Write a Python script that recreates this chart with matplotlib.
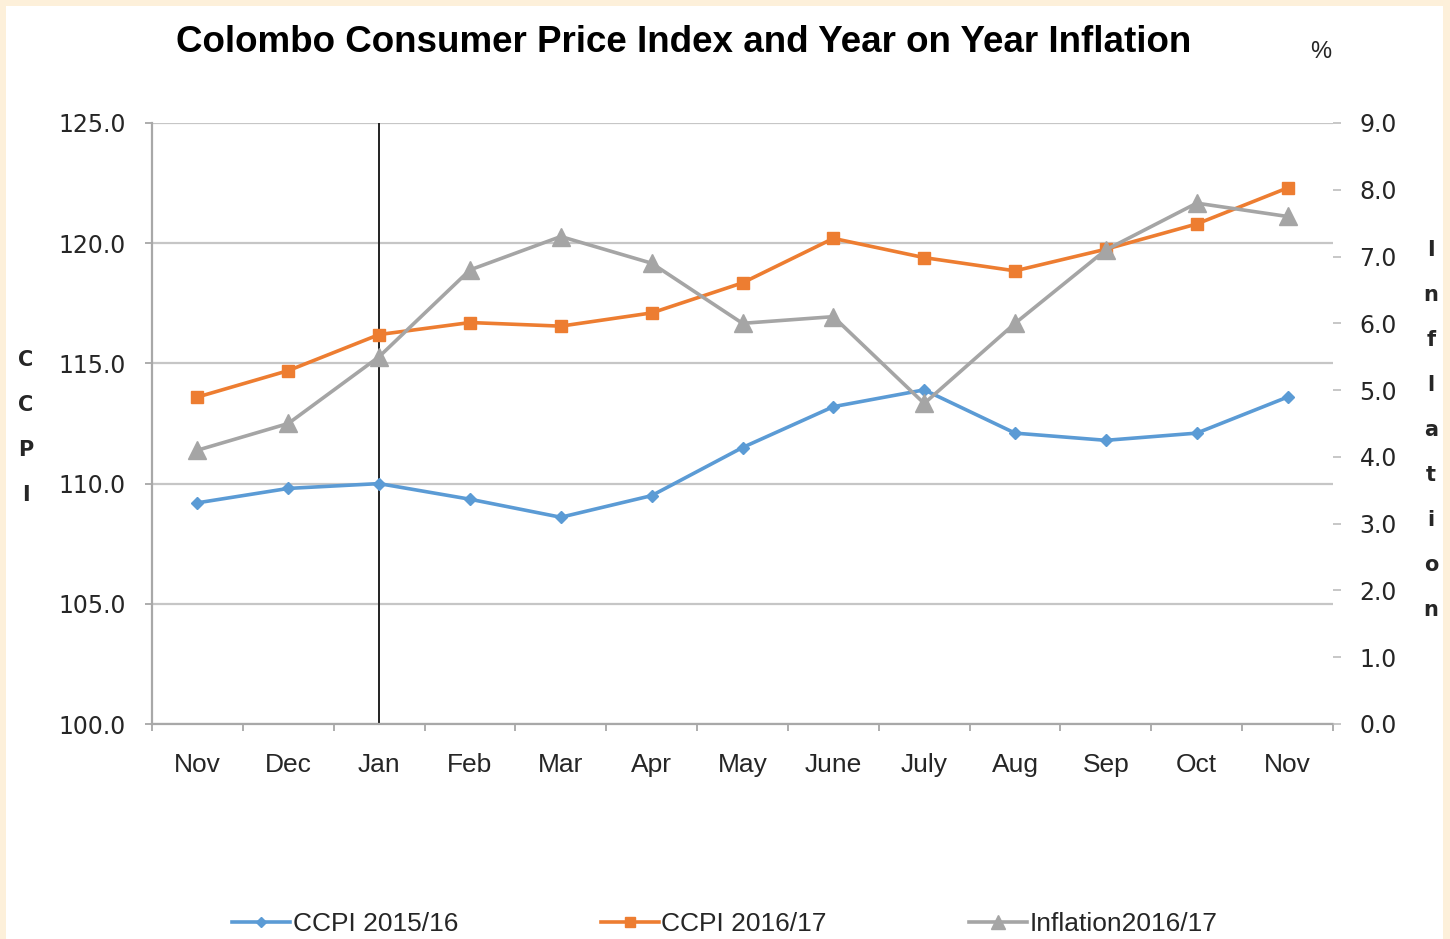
"""Colombo Consumer Price Index and Year on Year Inflation chart."""

import matplotlib

matplotlib.use("Agg")
import matplotlib.pyplot as plt
from matplotlib.patches import Rectangle
from matplotlib.ticker import FixedLocator

MONTHS = ["Nov", "Dec", "Jan", "Feb", "Mar", "Apr", "May", "June",
          "July", "Aug", "Sep", "Oct", "Nov"]
CCPI_2015_16 = [109.2, 109.8, 110.0, 109.35, 108.6, 109.5, 111.5, 113.2,
                113.9, 112.1, 111.8, 112.1, 113.6]
CCPI_2016_17 = [113.6, 114.7, 116.2, 116.7, 116.55, 117.1, 118.35, 120.2,
                119.4, 118.85, 119.75, 120.8, 122.3]
INFLATION_2016_17 = [4.1, 4.5, 5.5, 6.8, 7.3, 6.9, 6.0, 6.1, 4.8, 6.0,
                     7.1, 7.8, 7.6]
LEFT_TICKS = [100, 105, 110, 115, 120, 125]
RIGHT_TICKS = [0, 1, 2, 3, 4, 5, 6, 7, 8, 9]

BLUE = "#5B9BD5"
ORANGE = "#ED7D31"
GRAY = "#A5A5A5"
GRID = "#C6C6C6"
TEXT = "#262626"

fig = plt.figure(figsize=(14.5, 9.39), dpi=100)
fig.patch.set_facecolor("#FDF0DA")
fig.add_artist(Rectangle((6 / 1450, 0), 1437 / 1450, 1 - 6 / 939,
                         transform=fig.transFigure, facecolor="white",
                         edgecolor="none", zorder=0))

ax = fig.add_axes([152 / 1450, 1 - 724 / 939, 1181 / 1450, 601 / 939])
ax.set_facecolor("none")
x = list(range(len(MONTHS)))

ax.set_xlim(-0.5, len(MONTHS) - 0.5)
ax.set_ylim(100, 125)
ax.set_yticks(LEFT_TICKS)
ax.set_yticklabels([f"{v:.1f}" for v in LEFT_TICKS], fontsize=17,
                   color=TEXT, family="DejaVu Sans")
ax.grid(axis="y", color=GRID, linewidth=1.6)
ax.set_axisbelow(True)
ax.tick_params(axis="y", length=5, width=1.2, color="#A0A0A0", pad=14)

ax.set_xticks(x)
ax.set_xticklabels(MONTHS, fontsize=19, color=TEXT, family="Liberation Sans")
ax.tick_params(axis="x", length=0, pad=21)
ax.xaxis.set_minor_locator(FixedLocator([i + 0.5 for i in range(-1, len(MONTHS))]))
ax.tick_params(axis="x", which="minor", length=5, width=1.2, color="#A0A0A0")

for side in ["top", "right"]:
    ax.spines[side].set_visible(False)
for side in ["left", "bottom"]:
    ax.spines[side].set_color("#A8A8A8")
    ax.spines[side].set_linewidth(1.6)

ax.axvline(2, color="#222222", linewidth=1.4, zorder=1)

ax.plot(x, CCPI_2015_16, color=BLUE, linewidth=2.6, marker="D",
        markersize=6, label="CCPI 2015/16", zorder=3)
ax.plot(x, CCPI_2016_17, color=ORANGE, linewidth=2.6, marker="s",
        markersize=9, label="CCPI 2016/17", zorder=3)

ax2 = ax.twinx()
ax2.set_ylim(0, 9)
ax2.set_yticks(RIGHT_TICKS)
ax2.set_yticklabels([f"{v:.1f}" for v in RIGHT_TICKS], fontsize=17,
                    color=TEXT, family="DejaVu Sans")
ax2.tick_params(axis="y", length=6, width=1.2, color="#BDBDBD", pad=13)
for side in ["top", "right", "left", "bottom"]:
    ax2.spines[side].set_visible(False)
ax2.plot(x, INFLATION_2016_17, color=GRAY, linewidth=2.6, marker="^",
         markersize=13, label="Inflation2016/17", zorder=2)

fig.text(684 / 1450, 1 - 42 / 939,
         "Colombo Consumer Price Index and Year on Year Inflation",
         ha="center", va="center", fontsize=26.5, fontweight="bold",
         color="black", family="Liberation Sans")
fig.text(1321 / 1450, 1 - 52 / 939, "%", ha="center", va="center",
         fontsize=17, color=TEXT, family="Liberation Sans")

for i, ch in enumerate("CCPI"):
    fig.text(26 / 1450, 1 - (360 + 45 * i) / 939, ch, ha="center",
             va="center", fontsize=15, fontweight="bold", color=TEXT)
for i, ch in enumerate("Inflation"):
    fig.text(1431 / 1450, 1 - (250 + 45 * i) / 939, ch, ha="center",
             va="center", fontsize=15, fontweight="bold", color=TEXT)

handles = ax.get_lines()[1:] + ax2.get_lines()
handles = [h for h in handles if h.get_label() and not h.get_label().startswith("_")]
leg = fig.legend(handles, [h.get_label() for h in handles], loc="center",
                 bbox_to_anchor=(0.5, 1 - 924 / 939), ncol=3, frameon=False,
                 prop={"family": "Liberation Sans", "size": 19},
                 handlelength=2.2, handletextpad=0.1, columnspacing=5.4,
                 markerscale=0.8)
for text in leg.get_texts():
    text.set_color(TEXT)

fig.savefig("out.png", dpi=100)
plt.close(fig)
